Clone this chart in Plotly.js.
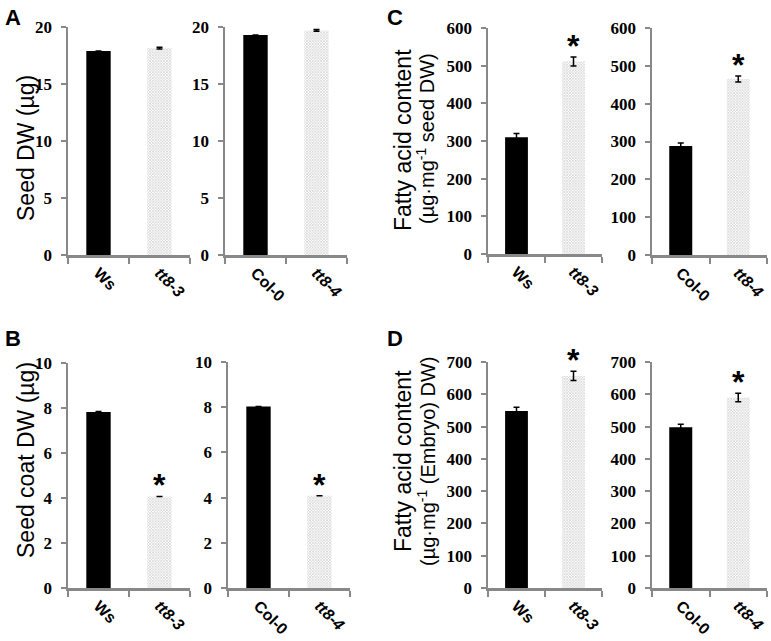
<!DOCTYPE html>
<html><head><meta charset="utf-8">
<script src="https://cdn.plot.ly/plotly-3.0.1.min.js"></script>
<style>html,body{margin:0;padding:0;background:#fff}</style>
</head><body><div id="chart" style="width:771px;height:641px"></div>
<script>
// ---- data ----
const catsWs = ['Ws', 'tt8-3'];
const catsCol = ['Col-0', 'tt8-4'];
const mutantCats = ['tt8-3', 'tt8-4'];

const seedDW_Ws = [17.9, 18.15];
const seedDW_Ws_err = [0, 0.08];
const seedDW_Col = [19.3, 19.7];
const seedDW_Col_err = [0, 0.08];

const coatDW_Ws = [7.82, 4.07];
const coatDW_Ws_err = [0.02, 0];
const coatDW_Col = [8.03, 4.08];
const coatDW_Col_err = [0, 0];

const faSeed_Ws = [310, 511];
const faSeed_Ws_err = [10, 12];
const faSeed_Col = [288, 465];
const faSeed_Col_err = [8, 8];

const faEmb_Ws = [548, 657];
const faEmb_Ws_err = [12, 14];
const faEmb_Col = [498, 590];
const faEmb_Col_err = [9, 13];

// significance flags (true = asterisk)
const sigSeedDW = [false, false];
const sigCoat = [false, true];
const sigFaSeed = [false, true];
const sigFaEmb = [false, true];

const yTitleA = 'Seed DW (µg)';
const yTitleB = 'Seed coat DW (µg)';
const yTitleC = ['Fatty acid content', '(µg·mg<sup>-1</sup> seed DW)'];
const yTitleD = ['Fatty acid content', '(µg·mg<sup>-1</sup> (Embryo) DW)'];
const panelLetters = ['A', 'B', 'C', 'D'];

// ---- panels ----
const W = 771, H = 641;
const panels = [
  {cats: catsWs, v: seedDW_Ws, e: seedDW_Ws_err, sig: sigSeedDW, range: [0, 20], dtick: 5, px: [68, 190], py: [27, 255]},
  {cats: catsCol, v: seedDW_Col, e: seedDW_Col_err, sig: sigSeedDW, range: [0, 20], dtick: 5, px: [225, 347], py: [27, 255]},
  {cats: catsWs, v: faSeed_Ws, e: faSeed_Ws_err, sig: sigFaSeed, range: [0, 600], dtick: 100, px: [488, 602], py: [28, 254]},
  {cats: catsCol, v: faSeed_Col, e: faSeed_Col_err, sig: sigFaSeed, range: [0, 600], dtick: 100, px: [652, 767], py: [28, 255]},
  {cats: catsWs, v: coatDW_Ws, e: coatDW_Ws_err, sig: sigCoat, range: [0, 10], dtick: 2, px: [68, 190], py: [363, 588]},
  {cats: catsCol, v: coatDW_Col, e: coatDW_Col_err, sig: sigCoat, range: [0, 10], dtick: 2, px: [228, 350], py: [362, 588]},
  {cats: catsWs, v: faEmb_Ws, e: faEmb_Ws_err, sig: sigFaEmb, range: [0, 700], dtick: 100, px: [488, 602], py: [362, 588]},
  {cats: catsCol, v: faEmb_Col, e: faEmb_Col_err, sig: sigFaEmb, range: [0, 700], dtick: 100, px: [652, 767], py: [362, 588]}
];

const traces = [];
const layout = {
  width: W, height: H,
  margin: {l: 0, r: 0, t: 0, b: 0},
  paper_bgcolor: '#fff', plot_bgcolor: '#fff',
  showlegend: false,
  annotations: []
};

const axisGrey = '#888888';
const serifFont = 'Liberation Serif';
const sansFont = 'Liberation Sans';
const xTickFont = {family: sansFont, size: 16, weight: 700, color: '#000'};
const yTickFont = {family: serifFont, size: 17, weight: 700, color: '#000'};
panels.forEach((p, i) => {
  const n = i + 1;
  const xa = 'x' + (n === 1 ? '' : n), ya = 'y' + (n === 1 ? '' : n);
  const isMut = p.cats.map(c => mutantCats.includes(c));
  traces.push({
    type: 'bar', x: p.cats, y: p.v, xaxis: xa, yaxis: ya,
    width: 0.4,
    marker: {
      color: isMut.map(m => m ? '#c8c8c8' : '#000000'),
      line: {width: 0},
      pattern: {shape: isMut.map(m => m ? 'x' : ''), fgcolor: '#a0a0a0', bgcolor: '#cfcfcf', size: 2, solidity: 0.5}
    },
    error_y: {type: 'data', array: p.e, visible: true, color: '#000', thickness: 1.5, width: 3},
    hoverinfo: 'skip'
  });
  layout['xaxis' + (n === 1 ? '' : n)] = {
    domain: [p.px[0] / W, p.px[1] / W], anchor: ya,
    type: 'category', range: [-0.5, 1.5],
    tickson: 'boundaries', ticks: 'outside', ticklen: 6, tickwidth: 2, tickcolor: axisGrey,
    showline: true, linecolor: axisGrey, linewidth: 2.5,
    showgrid: false, zeroline: false,
    tickangle: 45,
    tickvals: p.cats,
    ticktext: p.cats.map(c => mutantCats.includes(c) ? '<i>' + c + '</i>' : c),
    tickfont: xTickFont,
    fixedrange: true
  };
  layout['yaxis' + (n === 1 ? '' : n)] = {
    domain: [1 - p.py[1] / H, 1 - p.py[0] / H], anchor: xa,
    range: p.range, dtick: p.dtick, tick0: 0,
    ticks: 'outside', ticklen: 5, tickwidth: 2, tickcolor: axisGrey,
    showline: true, linecolor: axisGrey, linewidth: 2.5,
    showgrid: false, zeroline: false,
    ticklabelstandoff: 5,
    tickfont: yTickFont,
    fixedrange: true
  };
  p.cats.forEach((c, j) => {
    if (p.sig[j]) {
      layout.annotations.push({
        xref: xa, yref: ya, x: c, y: p.v[j] + p.e[j],
        text: '*', showarrow: false, yanchor: 'bottom', yshift: -9,
        font: {family: sansFont, size: 32, weight: 700, color: '#000'}
      });
    }
  });
});

// y titles
const titleFont = {family: sansFont, size: 23, color: '#000'};
const titleFont2 = {family: sansFont, size: 20, color: '#000'};
function addTitle(text, px, py, font) {
  layout.annotations.push({xref: 'paper', yref: 'paper', x: px / W, y: 1 - py / H,
    text: text, textangle: -90, showarrow: false, xanchor: 'center', yanchor: 'middle', font: font});
}
addTitle(yTitleA, 26, 148, titleFont);
addTitle(yTitleB, 26, 460, titleFont);
addTitle(yTitleC[0], 403, 140, titleFont);
addTitle(yTitleC[1], 426, 139, titleFont2);
addTitle(yTitleD[0], 403, 461, titleFont);
addTitle(yTitleD[1], 426, 461, titleFont2);

// panel letters
const letterPos = [[3, 3], [3, 324], [385, 3], [385, 324]];
panelLetters.forEach((L, k) => {
  layout.annotations.push({xref: 'paper', yref: 'paper', x: letterPos[k][0] / W, y: 1 - letterPos[k][1] / H,
    text: L, showarrow: false, xanchor: 'left', yanchor: 'top',
    font: {family: sansFont, size: 22, weight: 700, color: '#000'}});
});

Plotly.newPlot('chart', traces, layout, {staticPlot: true});
</script></body></html>
